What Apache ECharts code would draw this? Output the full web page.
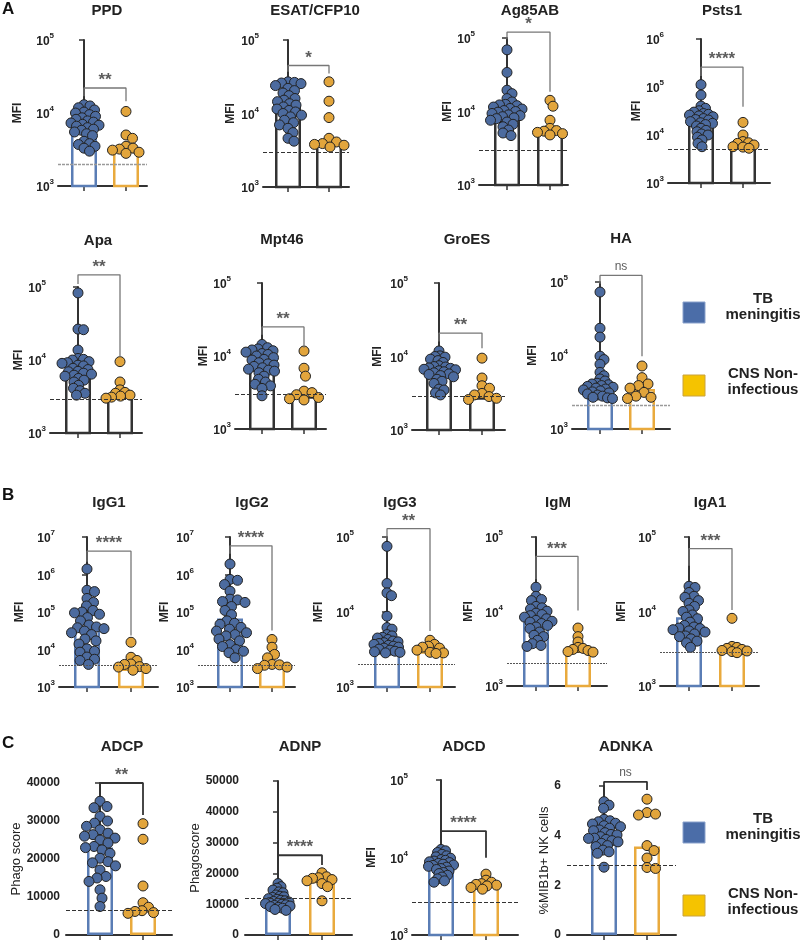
<!DOCTYPE html>
<html>
<head>
<meta charset="utf-8">
<script src="https://cdn.jsdelivr.net/npm/echarts@6/dist/echarts.min.js"></script>
<style>html,body{margin:0;background:#fff}#main{width:800px;height:944px}</style>
</head>
<body>
<div id="main"></div>
<script>
// values (MFI / score per donor), TB meningitis vs CNS non-infectious
var groups = ['TB meningitis', 'CNS Non-infectious'];

var ppdTB = [13000,12500,11800,11000,10300,10000,9500,9000,8600,8200,7800,7500,7300,7000,6800,6600,6300,6000,5800,5500,5200,4900,4100,3800,3700,3500,3300,3000];
var ppdCNS = [10500,5000,4500,3500,3300,3200,3100,2900,2800];
var ppdBars = [7000, 3200];

var esatTB = [27000,26500,26000,25500,24000,22000,20500,19000,17500,16000,15200,14500,13600,13000,12300,11500,11000,10500,10000,9500,9000,8100,7500,7000,6300,5500,4600,4200];
var esatCNS = [27000,14700,8800,4600,4100,3900,3800,3700,3500];
var esatBars = [12500, 4000];

var ag85TB = [69000,34000,19500,17500,15000,13500,12500,12300,12000,11500,11000,10800,10300,10000,9800,9400,9000,8800,8500,8200,8000,7600,7200,6700,6200,5600,5100,4700];
var ag85CNS = [14200,11800,7600,5900,5500,5400,5200,5000,4800];
var ag85Bars = [9000, 5200];

var pstsTB = [112000,68000,40000,36000,32000,30000,28000,27000,26000,25000,24000,22000,21000,20500,19000,18000,17500,16500,15400,13800,12500,11700,10500,10000,9000,7900,6700,5700];
var pstsCNS = [18300,10000,7300,6900,6700,6200,5700,5600,5300];
var pstsBars = [20000, 6100];

var apaTB = [83000,26500,26000,13700,10500,10200,10000,9500,9200,9000,8500,8300,7700,7400,7000,6900,6600,6400,6200,6000,5600,5300,5000,4500,4100,3800,3500,3300];
var apaCNS = [9500,5000,3900,3600,3500,3300,3200,3100,3000];
var apaBars = [6800, 3150];

var mptTB = [14400,13000,12500,12100,11800,11300,10800,10500,10000,9500,9000,8800,8100,7800,7500,7200,6900,6600,6400,6200,5900,5300,4800,4400,4100,3900,3600,2850];
var mptCNS = [11700,6800,5300,3300,3150,2950,2700,2600,2500];
var mptBars = [6700, 2800];

var groTB = [11900,10200,10000,9800,9200,8800,8300,7500,7300,7200,7000,6900,6700,6600,6400,6200,6000,5800,5700,5500,5300,4900,4600,4300,3600,3500,3200,3000];
var groCNS = [9500,5100,4000,3700,3150,3000,2850,2700,2600];
var groBars = [6200, 2800];

var haTB = [73000,23500,17800,9800,8800,7600,5900,5300,4800,4500,4200,4100,4000,3900,3800,3700,3600,3500,3400,3300,3200,3100,3000,2900,2800,2700,2650,2600];
var haCNS = [7200,5000,4100,3900,3600,3150,2800,2700,2600];
var haBars = [3500, 3500];

var igg1TB = [1400000,380000,350000,230000,180000,145000,110000,100000,95000,87000,71000,58000,45000,40000,38000,36000,31000,28000,25000,19000,17000,14000,10400,9000,8500,6300,5500,5100,4000];
var igg1CNS = [15600,6200,5100,4100,4000,3500,3400,3100,2800];
var igg1Bars = [37000, 3100];

var igg2TB = [1900000,740000,700000,540000,360000,220000,210000,190000,180000,140000,110000,85000,58000,50000,47000,39000,35000,31000,28000,25000,23000,19000,17000,13500,12000,10000,9000,8200,6000];
var igg2CNS = [18500,11500,7400,6000,4000,3900,3800,3400,3100];
var igg2Bars = [67000, 4300];

var igg3TB = [75000,24000,18000,16500,8800,6200,5900,5000,4800,4600,4500,4300,4100,4000,3900,3800,3700,3600,3500,3400,3300,3200,3100,3000,2950,2900,2850];
var igg3CNS = [4200,3700,3500,3400,3300,3100,2900,2850,2800];
var igg3Bars = [3900, 3000];

var igmTB = [21200,16000,14500,14000,11700,11200,10800,10100,9500,9100,8800,8400,8000,7600,7400,7200,6900,6500,6200,5900,5300,4800,4600,4100,3700,3500,3400];
var igmCNS = [6000,4600,3900,3300,3200,3100,3000,2900,2850];
var igmBars = [7200, 3000];

var iga1TB = [21800,21000,18000,16000,15500,14000,12900,11700,10500,10000,9000,8400,8000,7200,6500,6200,6000,5900,5700,5500,5300,5000,4700,4600,4300,4000,3800,3300];
var iga1CNS = [8100,3400,3300,3200,3100,3000,2950,2900,2800];
var iga1Bars = [8400, 3000];

var adcpTB = [35200,33800,33500,31200,30000,29450,28600,27700,26800,26400,26000,25500,25000,24200,23300,23000,22400,21500,20200,19300,19000,18200,17100,15400,15000,14100,11900,9700,7500];
var adcpCNS = [29300,25200,12900,8500,7300,6400,6200,5900,5700];
var adcpBars = [23000, 7200];

var adnpTB = [16700,15700,15200,14600,14000,13700,13000,12600,12400,12200,11800,11600,11300,11100,10900,10700,10500,10300,10200,10000,9800,9600,9400,9200,9000,8700,8300,8000];
var adnpCNS = [20200,18900,18600,18400,18000,17600,16700,15700,11100];
var adnpBars = [10300, 17600];

var adcdTB = [12700,12200,11600,11000,10500,10200,9800,9400,9200,9000,8800,8600,8400,8200,8000,7900,7700,7500,7200,7000,6700,6400,6200,5900,5600,5300,5000,4800];
var adcdCNS = [6100,5100,4800,4600,4500,4400,4300,4100,3900];
var adcdBars = [7700, 4500];

var adnkaTB = [5.37,5.23,5.1,4.66,4.6,4.56,4.5,4.47,4.4,4.36,4.3,4.23,4.2,4.12,4.05,4.03,3.96,3.9,3.89,3.85,3.8,3.75,3.69,3.6,3.56,3.42,3.35,3.29,2.73];
var adnkaCNS = [5.47,4.93,4.87,4.83,3.6,3.4,3.1,2.72,2.68];
var adnkaBars = [3.9, 3.56];

// cutoff lines
var cutoffs = {PPD:2000, ESAT:3000, Ag85AB:3000, Psts1:5000, Apa:2900, Mpt46:3000, GroES:2850, HA:2100,
  IgG1:3900, IgG2:3900, IgG3:2000, IgM:2000, IgA1:2800, ADCP:6600, ADNP:11900, ADCD:2650, ADNKA:2.82};

var F = "'Liberation Sans', Arial, sans-serif";
var BLUE = '#4c6b9f', ORANGE = '#e2a53c';
var BLUE_BAR = '#5a7db5', ORANGE_BAR = '#e9aa3d', DARK = '#333';

// box: [axisX, axisEnd, top, bottom], ticks: pixel x of the two groups
var panels = [
  {t:'PPD', tb:ppdTB, cns:ppdCNS, bars:ppdBars, box:[58,147,40,186], ticks:[84,126], y:[1e3,1e5], tx:[107,11], nx:18, bar:'c', cut:'gray', sig:'**', br:[17000,22000,14500]},
  {t:'ESAT/CFP10', tb:esatTB, cns:esatCNS, bars:esatBars, box:[263,349,40,187], ticks:[288,329], y:[1e3,1e5], tx:[315,11], nx:231, bar:'d', cut:'dash', sig:'*', br:[37000,45000,35000]},
  {t:'Ag85AB', tb:ag85TB, cns:ag85CNS, bars:ag85Bars, box:[479,568,38,185], ticks:[507,550], y:[1e3,1e5], tx:[530,11], nx:448, bar:'d', cut:'dash', sig:'*', br:[96000,120000,18500]},
  {t:'Psts1', tb:pstsTB, cns:pstsCNS, bars:pstsBars, box:[668,770,39,183], ticks:[701,743], y:[1e3,1e6], tx:[722,11], nx:643, bar:'d', cut:'dash', sig:'****', br:[170000,260000,39000]},
  {t:'Apa', tb:apaTB, cns:apaCNS, bars:apaBars, box:[50,142,287,433], ticks:[78,120], y:[1e3,1e5], tx:[98,241], nx:19, bar:'d', cut:'dash', sig:'**', br:[110000,147000,11000]},
  {t:'Mpt46', tb:mptTB, cns:mptCNS, bars:mptBars, box:[235,326,283,429], ticks:[262,304], y:[1e3,1e5], tx:[282,240], nx:204, bar:'d', cut:'dash', sig:'**', br:[19500,25000,13000]},
  {t:'GroES', tb:groTB, cns:groCNS, bars:groBars, box:[412,505,283,430], ticks:[439,482], y:[1e3,1e5], tx:[467,240], nx:378, bar:'d', cut:'dash', sig:'**', br:[16000,20800,13000]},
  {t:'HA', tb:haTB, cns:haCNS, bars:haBars, box:[572,670,282,429], ticks:[600,642], y:[1e3,1e5], tx:[621,239], nx:533, bar:'c', cut:'gray', sig:'ns', br:[95000,123000,9800]},
  {t:'IgG1', tb:igg1TB, cns:igg1CNS, bars:igg1Bars, box:[59,158,537,687], ticks:[87,131], y:[1e3,1e7], tx:[109,503], nx:20, bar:'c', cut:'dot', sig:'****', br:[2200000,4200000,23500]},
  {t:'IgG2', tb:igg2TB, cns:igg2CNS, bars:igg2Bars, box:[198,295,537,687], ticks:[230,272], y:[1e3,1e7], tx:[252,503], nx:165, bar:'c', cut:'dot', sig:'****', br:[3600000,5800000,32000]},
  {t:'IgG3', tb:igg3TB, cns:igg3CNS, bars:igg3Bars, box:[358,455,537,687], ticks:[387,430], y:[1e3,1e5], tx:[400,503], nx:319, bar:'c', cut:'dot', sig:'**', br:[90000,129000,5600]},
  {t:'IgM', tb:igmTB, cns:igmCNS, bars:igmBars, box:[507,607,537,686], ticks:[536,578], y:[1e3,1e5], tx:[558,503], nx:469, bar:'c', cut:'dot', sig:'***', br:[27000,55000,10300]},
  {t:'IgA1', tb:iga1TB, cns:iga1CNS, bars:iga1Bars, box:[660,759,537,686], ticks:[689,732], y:[1e3,1e5], tx:[710,503], nx:622, bar:'c', cut:'dot', sig:'***', br:[41000,70000,10500]},
  {t:'ADCP', tb:adcpTB, cns:adcpCNS, bars:adcpBars, box:[66,172,783,935], ticks:[100,143], y:[0,40000], step:10000, tx:[122,747], nx:20, name:'Phago score', bar:'c', cut:'dash', sig:'**', br:[37400,40000,31600], dark:true},
  {t:'ADNP', tb:adnpTB, cns:adnpCNS, bars:adnpBars, box:[245,352,781,935], ticks:[278,322], y:[0,50000], step:10000, tx:[300,747], nx:197, name:'Phagoscore', bar:'c', cut:'dash', sig:'****', br:[22900,25900,22700], dark:true},
  {t:'ADCD', tb:adcdTB, cns:adcdCNS, bars:adcdBars, box:[412,518,780,935], ticks:[441,486], y:[1e3,1e5], tx:[464,747], nx:372, bar:'c', cut:'dash', sig:'****', br:[18000,21900,9900], dark:true},
  {t:'ADNKA', tb:adnkaTB, cns:adnkaCNS, bars:adnkaBars, box:[567,676,786,935], ticks:[604,647], y:[0,6], step:2, tx:[626,747], nx:550, name:'%MIB1b+ NK cells', bar:'c', cut:'dash', sig:'ns', br:[5.81,6.17,5.84], dark:true}
];

var cutStyles = {
  gray: {color:'#9a9a9a', width:1.4, type:[3,1]},
  dash: {color:'#333', width:1.1, type:[4,2]},
  dot: {color:'#555', width:1, type:[2,1]}
};

// dodge layout so dots sit side by side (pixel offsets); squeeze if the cloud gets too wide
function dodge(vals, py, D) {
  var order = vals.map(function (v, i) { return i; }).sort(function (a, b) { return vals[b] - vals[a]; });
  var placed = [], out = [];
  order.forEach(function (i) {
    var y = py(vals[i]), best = 0;
    for (var k = 0; k < 400; k++) {
      var dx = (k % 2 ? 1 : -1) * Math.ceil(k / 2) * 0.5;
      var ok = placed.every(function (p) {
        var a = p[0] - dx, b = p[1] - y;
        return a * a + b * b >= D * D;
      });
      if (ok) { best = dx; break; }
    }
    placed.push([best, y]);
    out[i] = best;
  });
  return out;
}
function swarm(vals, py, maxHalf) {
  var D = 8.5, off;
  do {
    off = dodge(vals, py, D);
    var w = Math.max.apply(null, off.map(Math.abs));
    D -= 0.5;
  } while (w > maxHalf && D > 3);
  return off;
}

var grid = [], xAxis = [], yAxis = [], series = [], graphic = [];
var axisLine = {show: true, lineStyle: {color: '#333', width: 2}};
var axisTick = {show: true, length: 5, lineStyle: {color: '#333', width: 1.5}};

panels.forEach(function (p, gi) {
  var b = p.box, H = b[3] - b[2];
  var t0 = p.ticks[0], gap = p.ticks[1] - p.ticks[0];
  var isLog = !p.step;
  grid.push({left: b[0], top: b[2], width: b[1] - b[0], height: H, containLabel: false, outerBoundsMode: 'none'});
  xAxis.push({
    type: 'value', gridIndex: gi, min: (b[0] - t0) / gap, max: (b[1] - t0) / gap,
    axisLine: axisLine, axisTick: {show: true, length: 5, customValues: [0, 1], lineStyle: {color: '#333', width: 1.5}},
    axisLabel: {show: false}, splitLine: {show: false}
  });
  var nameSize = p.name ? 13 : 12;
  var ya = {
    gridIndex: gi, min: p.y[0], max: p.y[1],
    axisLine: axisLine, axisTick: axisTick, splitLine: {show: false},
    name: p.name || 'MFI', nameLocation: 'middle', nameGap: b[0] - p.nx - nameSize / 2,
    nameTextStyle: {fontFamily: F, fontSize: nameSize, fontWeight: p.name ? 'normal' : 'bold', color: '#222'}
  };
  if (isLog) {
    ya.type = 'log'; ya.logBase = 10;
    ya.axisLabel = {
      margin: 4,
      formatter: function (v) { return '{b|10}{s|' + Math.round(Math.log(v) / Math.LN10) + '}'; },
      rich: {
        b: {fontFamily: F, fontSize: 12, fontWeight: 'bold', color: '#222', lineHeight: 16, verticalAlign: 'bottom'},
        s: {fontFamily: F, fontSize: 8, fontWeight: 'bold', color: '#222', lineHeight: 16, verticalAlign: 'top'}
      }
    };
  } else {
    ya.type = 'value'; ya.interval = p.step;
    ya.axisLabel = {margin: 6, fontFamily: F, fontSize: 12, fontWeight: 'bold', color: '#222',
      formatter: function (v) { return String(v); }};
  }
  yAxis.push(ya);

  var lo = isLog ? Math.log10(p.y[0]) : p.y[0], hi = isLog ? Math.log10(p.y[1]) : p.y[1];
  var py = function (v) { return ((isLog ? Math.log10(v) : v) - lo) / (hi - lo) * H; };

  var c0 = p.bar === 'd' ? DARK : BLUE_BAR, c1 = p.bar === 'd' ? DARK : ORANGE_BAR;
  series.push({
    type: 'bar', xAxisIndex: gi, yAxisIndex: gi, barWidth: 26, clip: true, silent: true,
    data: [
      {value: [0, p.bars[0]], itemStyle: {color: '#fff', borderColor: c0, borderWidth: 2.5}},
      {value: [1, p.bars[1]], itemStyle: {color: '#fff', borderColor: c1, borderWidth: 2.5}}
    ],
    markLine: {silent: true, symbol: 'none', label: {show: false}, lineStyle: cutStyles[p.cut],
      data: [{yAxis: cutoffs[p.t.split('/')[0]]}]}
  });

  [[p.tb, 0, BLUE, 17], [p.cns, 1, ORANGE, 15]].forEach(function (g) {
    var off = swarm(g[0], py, g[3]);
    series.push({
      type: 'scatter', name: groups[g[1]], xAxisIndex: gi, yAxisIndex: gi, clip: false, silent: true,
      symbolSize: 10, z: 3,
      itemStyle: {color: g[2], borderColor: '#222', borderWidth: 1, opacity: 1},
      data: g[0].map(function (v, i) { return [g[1] + off[i] / gap, v]; })
    });
  });

  var br = p.br, bc = p.dark ? '#333' : '#777', bw = p.dark ? 1.8 : 1.3;
  series.push({
    type: 'line', xAxisIndex: gi, yAxisIndex: gi, clip: false, silent: true, symbol: 'none', z: 4,
    lineStyle: {color: bc, width: bw},
    data: [[0, br[0]], [0, br[1]], [1, br[1]], [1, br[2]]]
  });
  var ns = p.sig === 'ns';
  series.push({
    type: 'scatter', xAxisIndex: gi, yAxisIndex: gi, clip: false, silent: true, symbolSize: 0, z: 4,
    data: [[0.5, br[1]]],
    label: {show: true, position: 'top', distance: ns ? 3 : -1, formatter: p.sig,
      fontFamily: F, fontSize: ns ? 12 : 17, fontWeight: ns ? 'normal' : 'bold', color: '#333'}
  });

  graphic.push({type: 'text', x: p.tx[0], y: p.tx[1], silent: true,
    style: {text: p.t, font: 'bold 15px ' + F, fill: '#222', textAlign: 'center', textVerticalAlign: 'middle'}});
});

// panel letters
[['A', 9], ['B', 495], ['C', 743]].forEach(function (l) {
  graphic.push({type: 'text', x: 2, y: l[1], silent: true,
    style: {text: l[0], font: 'bold 17px ' + F, fill: '#111', textVerticalAlign: 'middle'}});
});

// legends (two copies)
[[302, 375], [822, 895]].forEach(function (ys) {
  graphic.push({type: 'rect', shape: {x: 683, y: ys[0], width: 22, height: 21}, silent: true,
    style: {fill: '#4b6da8', stroke: '#8aa2cc', lineWidth: 1}});
  graphic.push({type: 'text', x: 763, y: ys[0] + 5, silent: true,
    style: {text: 'TB\nmeningitis', font: 'bold 15px ' + F, fill: '#222', textAlign: 'center', textVerticalAlign: 'middle', lineHeight: 16}});
  graphic.push({type: 'rect', shape: {x: 683, y: ys[1], width: 22, height: 21}, silent: true,
    style: {fill: '#f5c300', stroke: '#c9a23e', lineWidth: 1}});
  graphic.push({type: 'text', x: 763, y: ys[1] + 7, silent: true,
    style: {text: 'CNS Non-\ninfectious', font: 'bold 15px ' + F, fill: '#222', textAlign: 'center', textVerticalAlign: 'middle', lineHeight: 16}});
});

var myChart = echarts.init(document.getElementById('main'), null, {renderer: 'canvas'});
myChart.setOption({
  backgroundColor: '#fff',
  animation: false,
  textStyle: {fontFamily: F},
  grid: grid,
  xAxis: xAxis,
  yAxis: yAxis,
  series: series,
  graphic: graphic
});
</script>
</body>
</html>
